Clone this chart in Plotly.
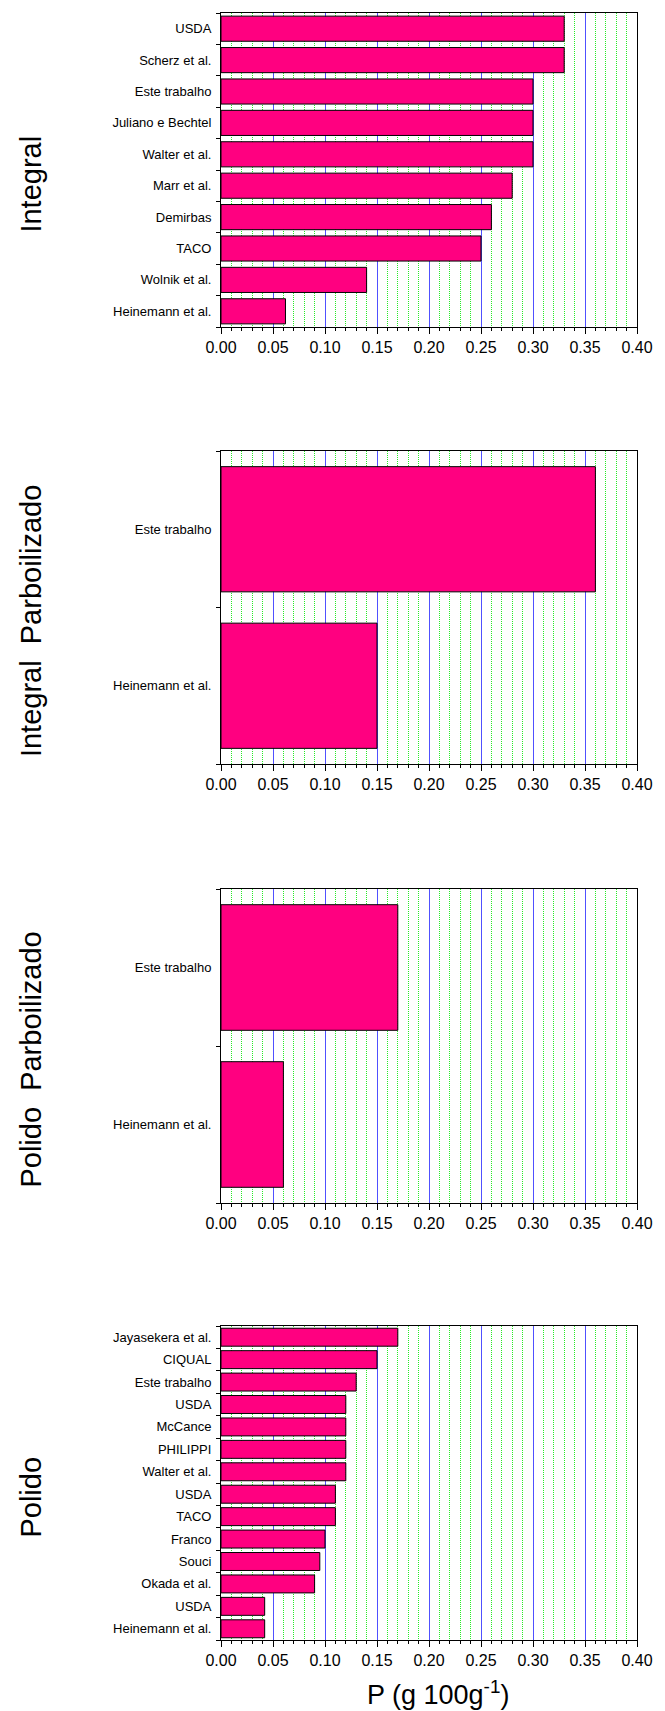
import plotly.graph_objects as go

# ---------------- data ----------------
integral_labels = ["USDA", "Scherz et al.", "Este trabalho", "Juliano e Bechtel", "Walter et al.",
                   "Marr et al.", "Demirbas", "TACO", "Wolnik et al.", "Heinemann et al."]
integral_values = [0.33, 0.33, 0.30, 0.30, 0.30, 0.28, 0.26, 0.25, 0.14, 0.062]

int_parb_labels = ["Este trabalho", "Heinemann et al."]
int_parb_values = [0.36, 0.15]

pol_parb_labels = ["Este trabalho", "Heinemann et al."]
pol_parb_values = [0.17, 0.06]

polido_labels = ["Jayasekera et al.", "CIQUAL", "Este trabalho", "USDA", "McCance", "PHILIPPI",
                 "Walter et al.", "USDA", "TACO", "Franco", "Souci", "Okada et al.", "USDA",
                 "Heinemann et al."]
polido_values = [0.17, 0.15, 0.13, 0.12, 0.12, 0.12, 0.12, 0.11, 0.11, 0.10, 0.095, 0.09, 0.042, 0.042]

panel_titles = ["Integral", "Integral  Parboilizado", "Polido  Parboilizado", "Polido"]
x_tick_values = [0.00, 0.05, 0.10, 0.15, 0.20, 0.25, 0.30, 0.35, 0.40]
x_title = "P (g 100g<sup>-1</sup>)"

panels = [
    (integral_labels, integral_values),
    (int_parb_labels, int_parb_values),
    (pol_parb_labels, pol_parb_values),
    (polido_labels, polido_values),
]

# ---------------- layout geometry (pixels) ----------------
W, H = 665, 1711
L, R, T, B = 221, 18, 13, 71
plot_h = H - T - B
panel_px = [(13, 327), (451, 764), (889, 1203), (1326, 1640)]  # top, bottom

FONT = "Arial, Liberation Sans, sans-serif"
BAR_COLOR = "rgb(255,0,128)"

fig = go.Figure()
annotations = []

for i, ((labels, values), (ptop, pbot)) in enumerate(zip(panels, panel_px)):
    idx = i + 1
    xa = "x" if idx == 1 else f"x{idx}"
    ya = "y" if idx == 1 else f"y{idx}"
    xkey = "xaxis" if idx == 1 else f"xaxis{idx}"
    ykey = "yaxis" if idx == 1 else f"yaxis{idx}"
    n = len(labels)
    pos = list(range(n))
    fig.add_trace(go.Bar(
        x=values, y=pos, orientation="h", xaxis=xa, yaxis=ya,
        marker=dict(color=BAR_COLOR, line=dict(color="black", width=1)),
        width=0.8, showlegend=False, hovertext=labels, hoverinfo="x+text",
    ))
    d_top = (H - B - ptop) / plot_h
    d_bot = (H - B - pbot) / plot_h
    fig.layout[xkey] = dict(
        domain=[0, 1], anchor=ya, range=[0, 0.40],
        tickmode="array", tickvals=x_tick_values, tickformat=".2f",
        ticks="outside", ticklen=6, tickwidth=1, tickcolor="black",
        tickfont=dict(family=FONT, size=16, color="black"),
        ticklabeloverflow="allow",
        showline=True, linecolor="black", linewidth=1, mirror=True,
        showgrid=True, gridcolor="rgb(80,80,255)", gridwidth=1,
        minor=dict(dtick=0.01, tick0=0, ticks="outside", ticklen=3, tickcolor="black",
                   showgrid=True, gridcolor="rgb(40,235,40)", griddash="1px,1px", gridwidth=1),
        zeroline=False, fixedrange=True,
    )
    fig.layout[ykey] = dict(
        domain=[d_bot, d_top], anchor=xa, range=[n - 0.5, -0.5],
        tickmode="array", tickvals=pos, ticktext=labels,
        ticks="", ticklabelstandoff=6,
        tickfont=dict(family=FONT, size=13, color="black"),
        showline=True, linecolor="black", linewidth=1, mirror=True,
        showgrid=False, zeroline=False,
        minor=dict(tickmode="linear", tick0=0.5, dtick=1, ticks="outside", ticklen=4,
                   tickcolor="black", showgrid=False),
        fixedrange=True,
    )
    # panel title (rotated)
    cy = (ptop + pbot) / 2 + 14
    annotations.append(dict(
        text=panel_titles[i], xref="paper", yref="paper",
        x=(26 - L) / (W - L - R), y=(H - B - cy) / plot_h,
        xanchor="center", yanchor="middle", textangle=-90, showarrow=False,
        font=dict(family=FONT, size=29, color="black"),
    ))

annotations.append(dict(
    text=x_title, xref="paper", yref="paper",
    x=(443 - L) / (W - L - R), y=(H - B - 1693) / plot_h,
    xanchor="center", yanchor="middle", showarrow=False,
    font=dict(family=FONT, size=27, color="black"),
))

fig.update_layout(
    width=W, height=H,
    margin=dict(l=L, r=R, t=T, b=B, pad=0),
    paper_bgcolor="white", plot_bgcolor="white",
    bargap=0.2, annotations=annotations,
    font=dict(family=FONT, color="black"),
)

fig.write_html(
    "out.html",
    config={"displayModeBar": False},
    post_script="document.body.style.margin='0';document.body.style.overflow='hidden';",
)
